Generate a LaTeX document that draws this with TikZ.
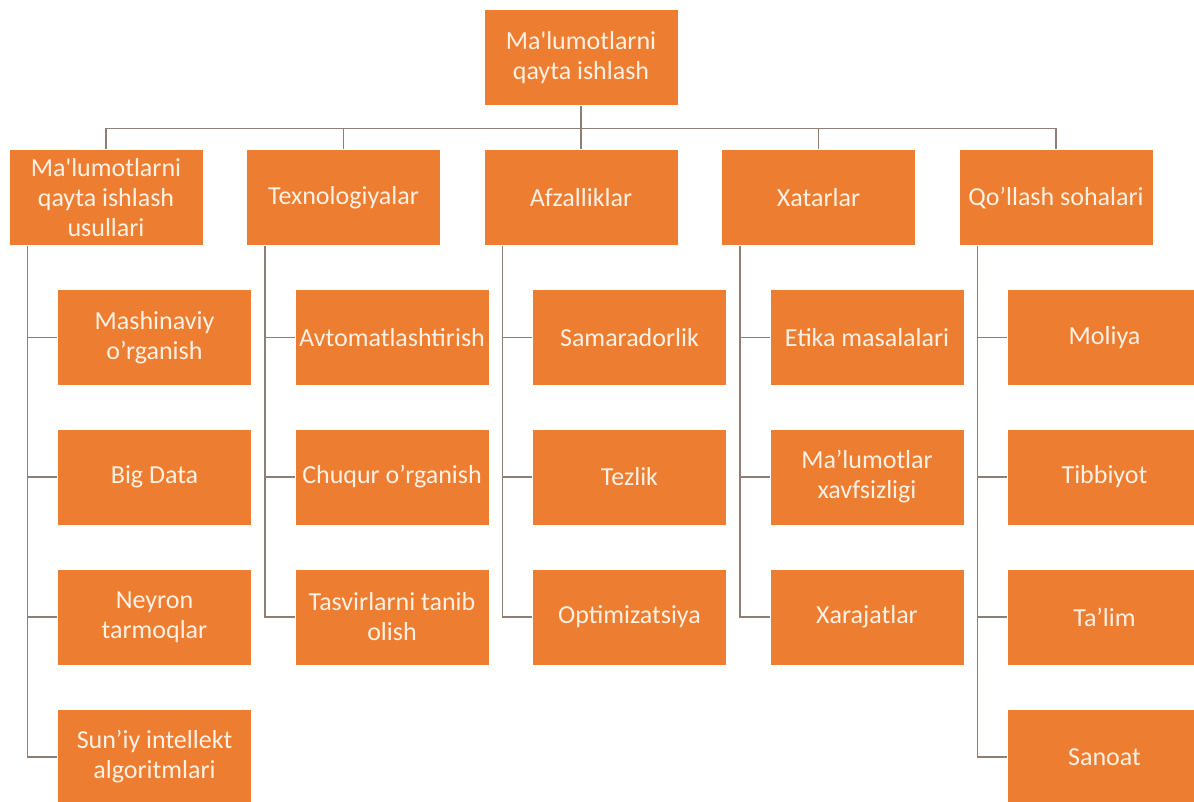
\documentclass[tikz,border=0pt]{standalone}
\usepackage{fontspec}
\setmainfont{Carlito}
\definecolor{boxfill}{HTML}{ED7D31}
\definecolor{boxtext}{HTML}{FFF1E4}
\definecolor{linkcol}{HTML}{8E7F76}
\begin{document}
\begin{tikzpicture}[x=1pt,y=-1pt,
  box/.style={rectangle, fill=boxfill, draw=white, line width=1pt,
    minimum width=194pt, minimum height=96pt, inner sep=0pt,
    align=center, text=boxtext, font=\fontsize{26}{30}\selectfont},
  link/.style={draw=linkcol, line width=1.4pt}]
\useasboundingbox (0,0) rectangle (1194,802);
\fill[white] (0,0) rectangle (1194,802);
\clip (0,0) rectangle (1194,802);

% root
\node[box] (root) at (581,58) {Ma\textquotesingle lumotlarni\\qayta ishlash};

% first level
\node[box] (a) at (106,198) {Ma\textquotesingle lumotlarni\\qayta ishlash\\usullari};
\node[box] (b) at (343.5,198) {Texnologiyalar};
\node[box] (c) at (581,198) {Afzalliklar};
\node[box] (d) at (818.5,198) {Xatarlar};
\node[box] (e) at (1056,198) {Qo’llash sohalari};

% column a
\node[box] (a1) at (154.5,337.5) {Mashinaviy\\o’rganish};
\node[box] (a2) at (154.5,477) {Big Data};
\node[box] (a3) at (154.5,617) {Neyron\\tarmoqlar};
\node[box] (a4) at (154.5,757) {Sun’iy intellekt\\algoritmlari};

% column b
\node[box] (b1) at (392,337.5) {Avtomatlashtirish};
\node[box] (b2) at (392,477) {Chuqur o’rganish};
\node[box] (b3) at (392,617) {Tasvirlarni tanib\\olish};

% column c
\node[box] (c1) at (629.5,337.5) {Samaradorlik};
\node[box] (c2) at (629.5,477) {Tezlik};
\node[box] (c3) at (629.5,617) {Optimizatsiya};

% column d
\node[box] (d1) at (867,337.5) {Etika masalalari};
\node[box] (d2) at (867,477) {Ma’lumotlar\\xavfsizligi};
\node[box] (d3) at (867,617) {Xarajatlar};

% column e
\node[box] (e1) at (1104.5,337.5) {Moliya};
\node[box] (e2) at (1104.5,477) {Tibbiyot};
\node[box] (e3) at (1104.5,617) {Ta’lim};
\node[box] (e4) at (1104.5,757) {Sanoat};

% root to first level
\foreach \n in {a,b,c,d,e}
  \draw[link] (root.south) -- ++(0,22) -| (\n.north);

% first level to children
\foreach \p/\kids in {a/{a1,a2,a3,a4}, b/{b1,b2,b3}, c/{c1,c2,c3}, d/{d1,d2,d3}, e/{e1,e2,e3,e4}}
  \foreach \k in \kids
    \draw[link] ([xshift=19pt]\p.south west) |- (\k.west);
\end{tikzpicture}
\end{document}
